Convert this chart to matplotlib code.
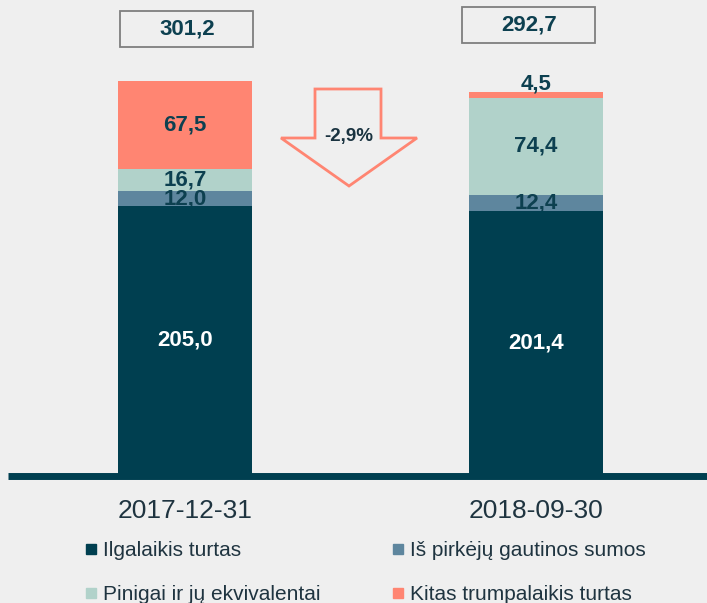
import matplotlib
matplotlib.use("Agg")
import matplotlib.pyplot as plt
from matplotlib.patches import Rectangle, Polygon
from matplotlib.lines import Line2D

plt.rcParams['font.family'] = ['Liberation Sans', 'DejaVu Sans']

# duomenys
dates = ["2017-12-31", "2018-09-30"]
series_names = ["Ilgalaikis turtas", "Iš pirkėjų gautinos sumos",
                "Pinigai ir jų ekvivalentai", "Kitas trumpalaikis turtas"]
ilgalaikis = [205.0, 201.4]
pirkeju = [12.0, 12.4]
pinigai = [16.7, 74.4]
kitas = [67.5, 4.5]
totals = ["301,2", "292,7"]
change = "-2,9%"

colors = ["#003f50", "#5e869e", "#b1d2ca", "#ff8572"]
BG = "#efefef"
TXT = "#0d4050"
SCALE = 1.305  # px per unit

fig = plt.figure(figsize=(7.07, 6.03), dpi=100, facecolor=BG)
ax = fig.add_axes([0, (603 - 474) / 603, 1, 474 / 603])
ax.set_facecolor(BG)

x = [0, 1]
w = 134 / 351
series = [ilgalaikis, pirkeju, pinigai, kitas]
bottoms = [0, 0]
for k, (vals, col) in enumerate(zip(series, colors)):
    # tamsus stulpelis uzdengia "12,x" apacia kaip originale
    ax.bar(x, vals, w, bottom=bottoms, color=col, zorder=4 if k == 0 else 2)
    for i, v in enumerate(vals):
        lab = f"{v:.1f}".replace(".", ",")
        c = "white" if k == 0 else TXT
        yy = bottoms[i] + v / 2
        if v < 8:
            yy = bottoms[i] + v + 6
        ax.text(x[i], yy, lab, ha="center", va="center", fontsize=16,
                fontweight="bold", color=c, zorder=5 if k == 0 else 3)
    bottoms = [b + v for b, v in zip(bottoms, vals)]

ax.set_xlim(-185 / 351, 1 + 171 / 351)
ax.set_ylim(0, 474 / SCALE)

# bazine linija
ax.plot([-0.504, 1.6], [-1.6, -1.6], color=colors[0], lw=5,
        solid_capstyle="butt", clip_on=False, zorder=6)

# sumu langeliai (fiksuotas aukstis virs stulpeliu)
bw = 133 / 351
bh = 36 / SCALE
box_dx = [0.005, -0.02]
box_y = [(474 - 47) / SCALE, (474 - 43) / SCALE]
for i, t in enumerate(totals):
    ax.add_patch(Rectangle((x[i] - bw / 2 + box_dx[i], box_y[i]),
                           bw, bh, facecolor="none", edgecolor="#7f7f7f",
                           lw=1.3, clip_on=False, zorder=3))
    ax.text(x[i] + box_dx[i], box_y[i] + bh / 2, t, ha="center",
            va="center", fontsize=16, fontweight="bold", color=TXT)

# rodykle
def px(xp, yp):
    return (xp / 707, 1 - yp / 474)

arrow = [px(315, 89), px(381, 89), px(381, 138), px(417, 138), px(349, 186),
         px(281, 138), px(315, 138)]
ax.add_patch(Polygon(arrow, closed=True, facecolor="none", edgecolor="#ff8572",
                     lw=2, transform=ax.transAxes, zorder=3))
ax.text(349 / 707, 1 - 137 / 474, change, ha="center", va="center",
        fontsize=13.5, fontweight="bold", color="#1a3340", transform=ax.transAxes)

ax.set_xticks(x)
ax.set_xticklabels(dates, fontsize=19, color="#1f3440")
ax.tick_params(axis="x", length=0, pad=18)
ax.set_yticks([])
for s in ax.spines.values():
    s.set_visible(False)

order = [0, 2, 1, 3]
handles = [Line2D([], [], marker="s", ls="none", markersize=7,
                  color=colors[k]) for k in order]
fig.legend(handles, [series_names[k] for k in order], ncol=2,
           loc="upper left", bbox_to_anchor=(85 / 707, 1 - 541 / 603),
           frameon=False, fontsize=15, labelcolor="#1f3440",
           handlelength=0.6, handletextpad=0.25, columnspacing=3.45,
           labelspacing=1.2, borderaxespad=0, borderpad=0)

fig.savefig("out.png", dpi=100, facecolor=BG)
